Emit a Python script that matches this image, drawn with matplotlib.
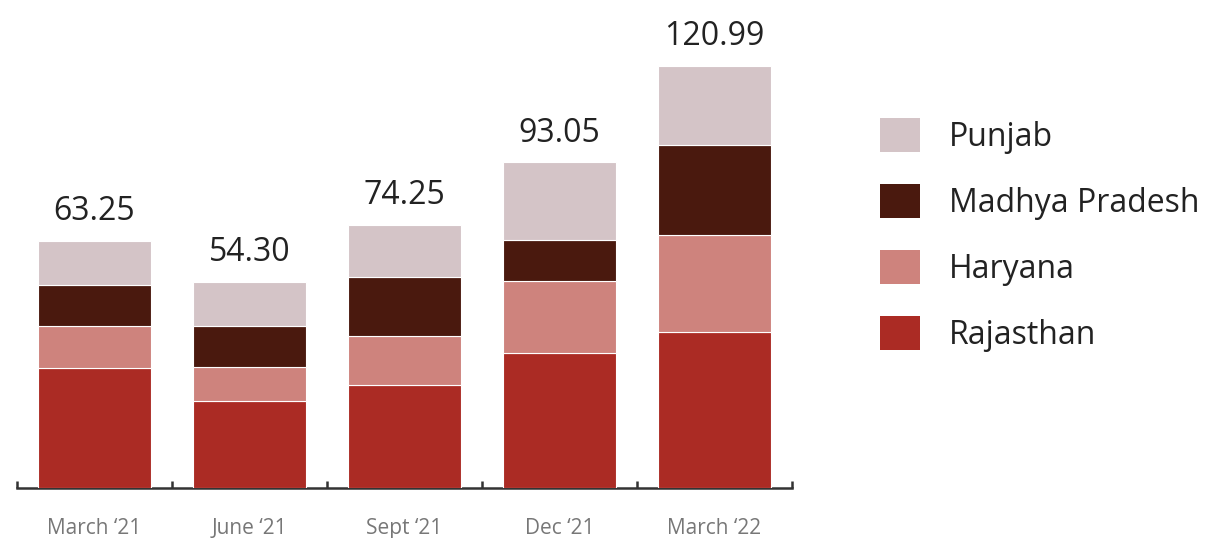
import matplotlib.pyplot as plt
import numpy as np

plt.rcParams['font.family'] = ['Open Sans', 'DejaVu Sans']

# quarterly values
quarters = ['March \u201821', 'June \u201821', 'Sept \u201821', 'Dec \u201821', 'March \u201822']
rajasthan = [34.4, 24.9, 29.5, 38.7, 44.7]
haryana = [12.0, 9.7, 14.0, 20.6, 27.8]
madhya_pradesh = [11.8, 11.8, 16.9, 11.8, 25.8]
punjab = [12.6, 12.6, 14.9, 22.1, 22.6]
total_labels = ['63.25', '54.30', '74.25', '93.05', '120.99']

colors = {
    'Rajasthan': '#AB2B24',
    'Haryana': '#CE837D',
    'Madhya Pradesh': '#4A190E',
    'Punjab': '#D4C4C7',
}

fig = plt.figure(figsize=(12.05, 5.38), dpi=100)
ax = fig.add_axes([17 / 1205, 50.5 / 538, 775 / 1205, 487.5 / 538])

x = np.arange(len(quarters))
width = 0.7226
bottom = np.zeros(len(quarters))
handles = {}
for name, vals in [('Rajasthan', rajasthan), ('Haryana', haryana),
                   ('Madhya Pradesh', madhya_pradesh), ('Punjab', punjab)]:
    b = ax.bar(x, vals, width, bottom=bottom, color=colors[name],
               edgecolor='white', linewidth=0.8, label=name, zorder=3)
    handles[name] = b
    bottom = bottom + np.array(vals)

# totals above each bar
for xi, top, lab in zip(x, bottom, total_labels):
    ax.annotate(lab, (xi, top), xytext=(0, 15), textcoords='offset points',
                ha='center', va='baseline', fontsize=23, color='#222222')

ax.set_xlim(-0.5, len(quarters) - 0.5)
ax.set_ylim(0, 487.5 * 0.2867)

for s in ['left', 'right', 'top']:
    ax.spines[s].set_visible(False)
ax.spines['bottom'].set_color('#333333')
ax.spines['bottom'].set_linewidth(1.8)
ax.set_yticks([])

ax.set_xticks(x)
ax.set_xticklabels(quarters, fontsize=15, color='#777777')
ax.tick_params(axis='x', which='major', length=0, pad=22)
ax.set_xticks(np.arange(-0.5, len(quarters)), minor=True)
ax.tick_params(axis='x', which='minor', direction='in', length=5,
               width=1.8, color='#333333')

order = ['Punjab', 'Madhya Pradesh', 'Haryana', 'Rajasthan']
leg = fig.legend([handles[n] for n in order], order,
                 loc='upper left', bbox_to_anchor=(880 / 1205, 1 - 118 / 538),
                 frameon=False, fontsize=23, handlelength=1.25, handleheight=1.25,
                 handletextpad=0.92, labelspacing=0.95, borderpad=0, borderaxespad=0)
for t in leg.get_texts():
    t.set_color('#222222')
for p in leg.get_patches():
    p.set_edgecolor('none')

fig.savefig('out.png', dpi=100)
